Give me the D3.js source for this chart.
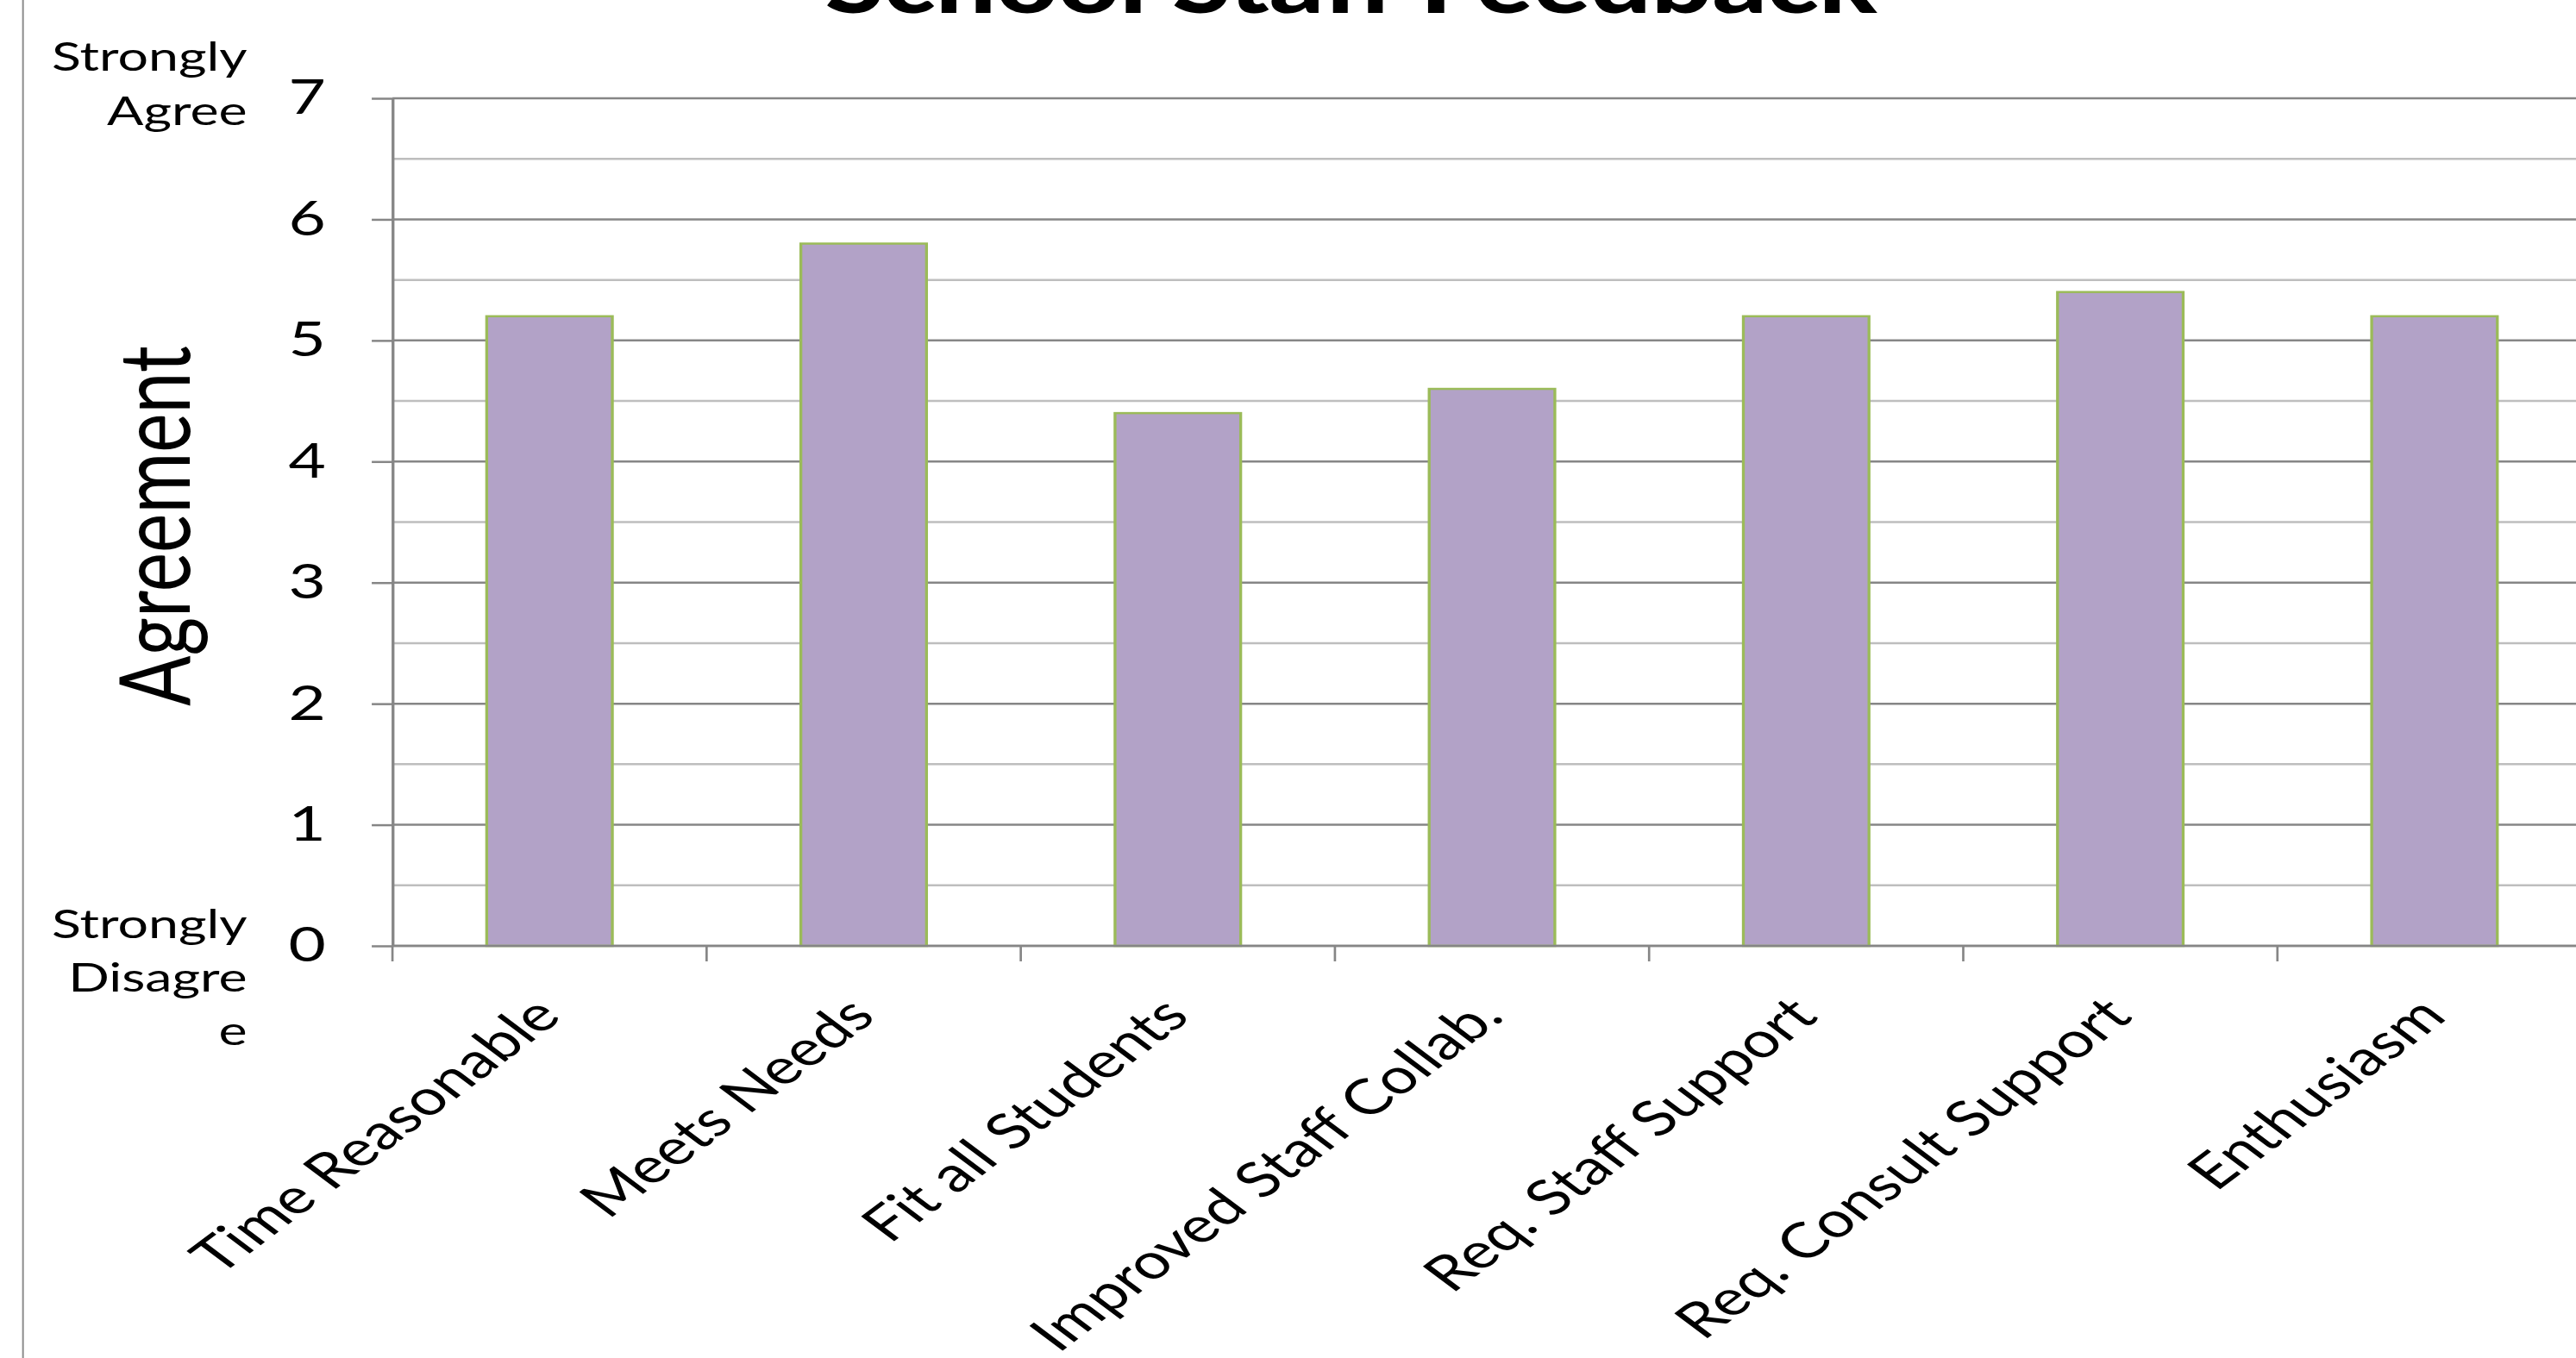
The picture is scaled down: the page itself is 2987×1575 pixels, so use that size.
<!DOCTYPE html>
<html>
<head>
<meta charset="utf-8">
<script src="https://cdn.jsdelivr.net/npm/d3@7"></script>
<style>
  html, body { margin: 0; padding: 0; background: #fff; }
  svg { display: block; }
  text { font-family: Lato, "Open Sans", sans-serif; fill: #000; }
</style>
</head>
<body>
<div id="chart"></div>
<script>
// data
var categories = ['Time Reasonable', 'Meets Needs', 'Fit all Students', 'Improved Staff Collab.',
                  'Req. Staff Support', 'Req. Consult Support', 'Enthusiasm'];
var agreement = [5.2, 5.8, 4.4, 4.6, 5.2, 5.4, 5.2];
var yTicks = [0, 1, 2, 3, 4, 5, 6, 7];
var yMinor = [0.5, 1.5, 2.5, 3.5, 4.5, 5.5, 6.5];
var topNote = ['Strongly', 'Agree'];
var bottomNote = ['Strongly', 'Disagre', 'e'];
var chartTitle = 'School Staff Feedback';
var yTitle = 'Agreement';

function draw() {
    var width = 2987, height = 1575;
    // the original picture is a chart stretched sideways (4:3 -> 16:9)
    var stretch = 4 / 3;

    var svg = d3.select('#chart').append('svg')
        .attr('width', width).attr('height', height);

    var canvas = svg.append('g').attr('transform', 'scale(' + stretch + ',1)');

    var plotLeft = 341.3, plotRight = 2253.8, plotTop = 114, plotBottom = 1097;

    var x = d3.scaleBand().domain(categories).range([plotLeft, plotRight])
        .paddingInner(0.6).paddingOuter(0.3);
    var y = d3.scaleLinear().domain([0, 7]).range([plotBottom, plotTop]);

    // chart area border (only the left side is inside the picture)
    canvas.append('rect')
        .attr('x', 20).attr('y', -60).attr('width', 3000).attr('height', 1800)
        .attr('fill', 'none').attr('stroke', '#8c8c8c').attr('stroke-width', 1.5);

    // gridlines
    canvas.append('g').selectAll('line').data(yMinor).enter().append('line')
        .attr('x1', plotLeft).attr('x2', plotRight)
        .attr('y1', function (d) { return y(d); }).attr('y2', function (d) { return y(d); })
        .attr('stroke', '#bebebe').attr('stroke-width', 2.5);
    canvas.append('g').selectAll('line').data(yTicks).enter().append('line')
        .attr('x1', plotLeft).attr('x2', plotRight)
        .attr('y1', function (d) { return y(d); }).attr('y2', function (d) { return y(d); })
        .attr('stroke', '#868686').attr('stroke-width', 2.5);

    // bars
    canvas.append('g').selectAll('rect').data(agreement).enter().append('rect')
        .attr('x', function (d, i) { return x(categories[i]); })
        .attr('width', x.bandwidth())
        .attr('y', function (d) { return y(d); })
        .attr('height', function (d) { return y(0) - y(d); })
        .attr('fill', '#b2a2c7')
        .attr('stroke', '#9bbb59').attr('stroke-width', 2.5);

    // y axis
    var yAxis = canvas.append('g').attr('transform', 'translate(' + plotLeft + ',0)')
        .call(d3.axisLeft(y).tickValues(yTicks).tickFormat(d3.format('d'))
            .tickSize(18).tickSizeOuter(0).tickPadding(40));
    yAxis.select('.domain').attr('stroke', '#868686').attr('stroke-width', 2.5);
    yAxis.selectAll('.tick line').attr('stroke', '#868686').attr('stroke-width', 2.5);
    yAxis.selectAll('.tick text')
        .attr('font-family', 'Lato, sans-serif').attr('font-size', 56).attr('fill', '#000');

    // x axis baseline and category ticks (between the bars)
    canvas.append('line')
        .attr('x1', plotLeft).attr('x2', plotRight).attr('y1', y(0)).attr('y2', y(0))
        .attr('stroke', '#868686').attr('stroke-width', 2.5);
    var bounds = categories.map(function (c) { return x(c) - (x.step() - x.bandwidth()) / 2; });
    bounds.push(plotRight);
    canvas.append('g').selectAll('line').data(bounds).enter().append('line')
        .attr('x1', function (d) { return d; }).attr('x2', function (d) { return d; })
        .attr('y1', y(0)).attr('y2', y(0) + 18)
        .attr('stroke', '#868686').attr('stroke-width', 2);

    // rotated category labels
    canvas.append('g').selectAll('text').data(categories).enter().append('text')
        .attr('transform', function (d) {
            return 'translate(' + (x(d) + x.bandwidth() / 2 + 12) + ',' + (y(0) + 84) + ') rotate(-45)';
        })
        .attr('text-anchor', 'end')
        .attr('font-size', 57)
        .text(function (d) { return d; });

    // axis end notes
    canvas.append('g').selectAll('text').data(topNote).enter().append('text')
        .attr('x', 215).attr('y', function (d, i) { return 82 + i * 63; })
        .attr('text-anchor', 'end').attr('font-size', 47)
        .text(function (d) { return d; });
    canvas.append('g').selectAll('text').data(bottomNote).enter().append('text')
        .attr('x', 215).attr('y', function (d, i) { return 1088 + i * 62; })
        .attr('text-anchor', 'end').attr('font-size', 47)
        .text(function (d) { return d; });

    // y axis title
    canvas.append('text')
        .attr('transform', 'translate(165,610) rotate(-90)')
        .attr('text-anchor', 'middle').attr('font-size', 86)
        .text(yTitle);

    // chart title, cut by the top edge
    canvas.append('text')
        .attr('x', 1175).attr('y', 15)
        .attr('text-anchor', 'middle').attr('font-size', 98).attr('font-weight', 900)
        .attr('textLength', 915).attr('lengthAdjust', 'spacingAndGlyphs')
        .text(chartTitle);
}

draw();
</script>
</body>
</html>
